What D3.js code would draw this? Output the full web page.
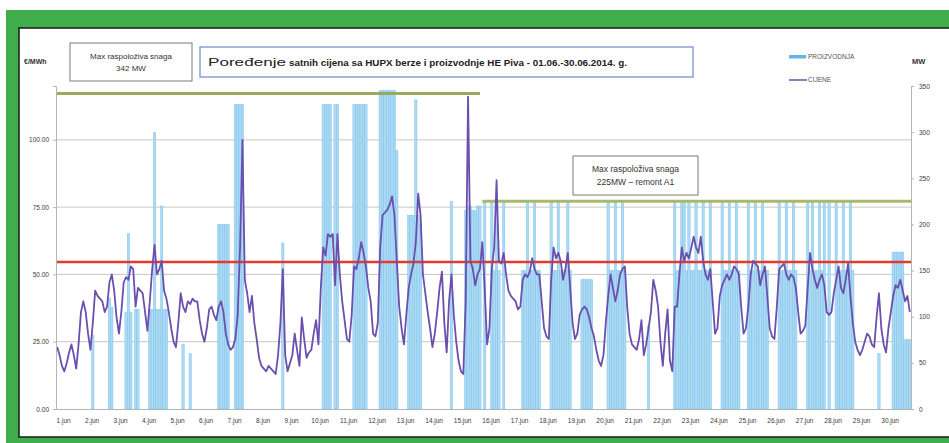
<!DOCTYPE html>
<html>
<head>
<meta charset="utf-8">
<script src="https://d3js.org/d3.v7.min.js"></script>
<style>
  body { margin: 0; background: #fff; }
  svg text { font-family: "Liberation Sans", Arial, sans-serif; }
</style>
</head>
<body>
<script>
'use strict';

// hourly price (EUR/MWh), read every 2 hours, one row per day
const price = [
  23, 20, 16, 14, 17, 21, 24, 20, 15, 24, 36, 40,   // 1.jun
  36, 28, 22, 32, 44, 42, 41, 40, 36, 38, 47, 50,   // 2.jun
  44, 34, 28, 36, 47, 49, 48, 53, 52, 38, 45, 44,
  43, 36, 29, 40, 52, 61, 50, 52, 55, 44, 41, 36,
  30, 25, 23, 32, 43, 38, 36, 40, 39, 41, 40, 40,   // 5.jun
  33, 28, 25, 30, 37, 38, 35, 33, 38, 40, 36, 28,
  24, 22, 23, 26, 35, 60, 100, 48, 43, 36, 42, 32,
  26, 19, 16, 15, 14, 16, 15, 14, 13, 20, 32, 52,
  20, 14, 17, 20, 28, 22, 16, 34, 26, 19, 21, 22,
  28, 33, 24, 45, 60, 57, 65, 64, 65, 46, 65, 50,   // 10.jun
  40, 33, 26, 25, 35, 53, 52, 56, 62, 58, 53, 45,
  40, 28, 27, 32, 60, 72, 73, 74, 76, 79, 72, 55,
  38, 30, 24, 35, 45, 50, 54, 62, 80, 72, 50, 43,
  36, 30, 23, 28, 36, 45, 51, 32, 21, 40, 50, 35,
  25, 18, 14, 13, 40, 116, 55, 52, 46, 50, 52, 62,  // 15.jun
  45, 24, 30, 52, 60, 85, 55, 54, 58, 50, 44, 42,
  41, 40, 37, 38, 48, 50, 49, 51, 56, 52, 50, 50,
  40, 30, 27, 26, 48, 60, 56, 58, 55, 48, 52, 58,
  45, 32, 26, 28, 35, 37, 38, 37, 34, 30, 27, 22,
  18, 16, 20, 32, 42, 50, 45, 40, 44, 50, 52, 53,   // 20.jun
  38, 28, 24, 23, 22, 26, 33, 20, 24, 30, 36, 48,
  44, 38, 25, 16, 28, 37, 18, 14, 38, 38, 50, 60,
  55, 58, 56, 60, 64, 60, 58, 64, 55, 50, 48, 52,
  40, 28, 30, 42, 46, 48, 50, 48, 50, 53, 52, 50,
  38, 28, 30, 38, 50, 55, 54, 53, 46, 50, 53, 42,   // 25.jun
  30, 27, 26, 38, 52, 53, 54, 50, 48, 50, 49, 45,
  36, 28, 29, 31, 45, 58, 52, 48, 45, 48, 50, 46,
  36, 35, 36, 43, 48, 53, 45, 43, 48, 54, 42, 32,
  25, 22, 20, 22, 25, 28, 27, 24, 23, 34, 43, 30,
  24, 21, 30, 36, 42, 46, 45, 48, 44, 40, 42, 36    // 30.jun
];

// production of HE Piva (MW), same 2 hour steps
const production = [
  0, 0, 0, 0, 0, 0, 0, 0, 0, 0, 0, 0,
  0, 0, 0, 80, 0, 0, 0, 0, 0, 0, 120, 110,
  0, 0, 0, 0, 0, 105, 190, 105, 0, 108, 108, 0,
  0, 0, 0, 108, 108, 300, 108, 108, 220, 108, 108, 0,
  0, 0, 0, 0, 0, 70, 0, 0, 60, 0, 0, 0,
  0, 0, 0, 0, 0, 0, 0, 0, 200, 200, 200, 200,
  200, 0, 0, 330, 330, 330, 330, 0, 0, 0, 0, 0,
  0, 0, 0, 0, 0, 0, 0, 0, 0, 0, 0, 180,
  0, 0, 0, 0, 0, 0, 0, 0, 0, 0, 0, 0,
  0, 0, 0, 0, 330, 330, 330, 330, 0, 330, 330, 0,
  0, 0, 0, 0, 0, 330, 330, 330, 330, 330, 330, 0,
  0, 0, 0, 0, 345, 345, 345, 345, 345, 345, 345, 280,
  0, 0, 0, 0, 210, 210, 210, 335, 210, 200, 0, 0,
  0, 0, 0, 0, 0, 0, 0, 0, 0, 0, 225, 0,
  0, 0, 0, 0, 215, 220, 220, 215, 215, 220, 220, 0,
  225, 0, 0, 225, 150, 225, 150, 0, 225, 0, 0, 0,
  0, 0, 0, 0, 150, 150, 225, 150, 150, 225, 150, 150,
  0, 0, 0, 0, 225, 150, 150, 225, 150, 150, 150, 225,
  150, 0, 0, 0, 0, 140, 140, 140, 140, 140, 0, 0,
  0, 0, 0, 0, 225, 150, 150, 225, 150, 150, 225, 150,
  0, 0, 0, 0, 0, 0, 0, 0, 0, 90, 0, 0,
  0, 0, 0, 0, 0, 0, 0, 0, 225, 150, 150, 225,
  225, 150, 225, 150, 150, 225, 150, 150, 225, 150, 150, 225,
  0, 0, 0, 0, 225, 150, 150, 225, 150, 150, 225, 150,
  0, 0, 0, 225, 150, 150, 225, 150, 150, 225, 150, 150,
  0, 0, 0, 0, 225, 150, 150, 225, 150, 150, 225, 150,
  0, 0, 0, 0, 225, 150, 225, 150, 150, 225, 150, 225,
  0, 225, 0, 0, 225, 150, 150, 225, 150, 150, 225, 150,
  0, 0, 0, 0, 0, 0, 0, 0, 0, 0, 60, 0,
  0, 0, 0, 0, 170, 170, 170, 170, 170, 75, 75, 75
];

const dayLabels = d3.range(1, 31).map(d => d + '.jun');
const priceTicks = [0, 25, 50, 75, 100];
const powerTicks = [0, 50, 100, 150, 200, 250, 300, 350];
const avgPrice = 54.6;            // red line
const maxPower = [342, 225];      // max available power before / after 16.jun
const stepHours = 2;

(function() {
  const W = 949, H = 443;
  const svg = d3.select('body').append('svg')
    .attr('width', W)
    .attr('height', H);

  // green frame round the chart
  svg.append('rect')
    .attr('x', 6).attr('y', 10)
    .attr('width', W - 6).attr('height', H - 10)
    .attr('fill', '#3fad4a');
  svg.append('rect')
    .attr('x', 19).attr('y', 28)
    .attr('width', W - 18).attr('height', 409)
    .attr('fill', '#fff')
    .attr('stroke', '#1a1a1a')
    .attr('stroke-width', 1.5);

  // scales
  const x = d3.scaleLinear().domain([0, 720]).range([56, 911]);
  const yL = d3.scaleLinear().domain([0, 120]).range([409, 86]);
  const yR = d3.scaleLinear().domain([0, 350]).range([409, 86]);

  // horizontal grid
  svg.append('g').selectAll('line')
    .data(priceTicks.slice(1))
    .enter().append('line')
    .attr('x1', x(0)).attr('x2', x(720))
    .attr('y1', d => yL(d)).attr('y2', d => yL(d))
    .attr('stroke', '#c6c6c0')
    .attr('stroke-width', 1);

  // production bars
  svg.append('g').selectAll('rect')
    .data(production)
    .enter().append('rect')
    .attr('x', (d, i) => x(i * stepHours))
    .attr('y', d => yR(d))
    .attr('width', x(stepHours) - x(0))
    .attr('height', d => yR(0) - yR(d))
    .attr('fill', '#acdaf3')
    .attr('stroke', '#72bde8')
    .attr('stroke-width', 0.4);

  // max available power lines
  svg.append('line')
    .attr('x1', 57).attr('x2', x(357))
    .attr('y1', yR(maxPower[0])).attr('y2', yR(maxPower[0]))
    .attr('stroke', '#98aa5c').attr('stroke-width', 3);
  svg.append('line')
    .attr('x1', x(359)).attr('x2', x(720))
    .attr('y1', yR(maxPower[1])).attr('y2', yR(maxPower[1]))
    .attr('stroke', '#a9b96c').attr('stroke-width', 3);

  // average price line
  svg.append('line')
    .attr('x1', x(0)).attr('x2', x(720))
    .attr('y1', yL(avgPrice)).attr('y2', yL(avgPrice))
    .attr('stroke', '#e6382b').attr('stroke-width', 2.5);

  // price line
  const line = d3.line()
    .x((d, i) => x(i * stepHours + 1))
    .y(d => yL(d));
  svg.append('path')
    .datum(price)
    .attr('fill', 'none')
    .attr('stroke', '#6a4fae')
    .attr('stroke-width', 1.8)
    .attr('stroke-linejoin', 'round')
    .attr('d', line);

  // axes
  const leftAxis = d3.axisLeft(yL).tickValues(priceTicks)
    .tickFormat(d3.format('.2f')).tickSize(3).tickPadding(4);
  const gl = svg.append('g').attr('transform', 'translate(56,0)').call(leftAxis);

  const rightAxis = d3.axisRight(yR).tickValues(powerTicks).tickSize(3).tickPadding(5);
  const gr = svg.append('g').attr('transform', 'translate(911,0)').call(rightAxis);

  const bottomAxis = d3.axisBottom(x)
    .tickValues(d3.range(30).map(i => i * 24 + 6))
    .tickFormat((d, i) => dayLabels[i])
    .tickSize(0).tickPadding(9);
  const gb = svg.append('g').attr('transform', 'translate(0,409)').call(bottomAxis);

  [gl, gr, gb].forEach(g => {
    g.select('.domain').attr('stroke', '#b5b5b5');
    g.selectAll('.tick line').attr('stroke', '#b5b5b5');
    g.selectAll('text').attr('fill', '#3a3a3a').style('font-size', '6.5px');
  });

  // axis units
  svg.append('text').attr('x', 24).attr('y', 64)
    .style('font-size', '7px').style('font-weight', 'bold').attr('fill', '#333')
    .text('€/MWh');
  svg.append('text').attr('x', 912).attr('y', 64)
    .style('font-size', '7.5px').style('font-weight', 'bold').attr('fill', '#333')
    .text('MW');

  // note boxes
  function noteBox(x0, y0, w, h, lines, size) {
    svg.append('rect')
      .attr('x', x0).attr('y', y0).attr('width', w).attr('height', h)
      .attr('fill', '#fff').attr('stroke', '#7a7a7a').attr('stroke-width', 1);
    lines.forEach((t, i) => {
      svg.append('text')
        .attr('x', x0 + w / 2)
        .attr('y', y0 + h / 2 - (lines.length - 1) * size * 0.75 + i * size * 1.5 + size * 0.35)
        .attr('text-anchor', 'middle')
        .style('font-size', size + 'px')
        .attr('fill', '#333')
        .text(t);
    });
  }
  noteBox(70, 43, 122, 38, ['Max raspoloživa snaga', '342 MW'], 8);
  noteBox(573, 156, 125, 39, ['Max raspoloživa snaga', '225MW – remont A1'], 8.5);

  // title box
  svg.append('rect')
    .attr('x', 200).attr('y', 47).attr('width', 493).attr('height', 30)
    .attr('fill', '#fff').attr('stroke', '#86a2d4').attr('stroke-width', 1.5);
  const title = svg.append('text').attr('x', 208).attr('y', 66).attr('fill', '#222');
  title.append('tspan')
    .style('font-size', '11px')
    .attr('textLength', 78).attr('lengthAdjust', 'spacingAndGlyphs')
    .text('Poređenje');
  title.append('tspan')
    .attr('x', 289)
    .style('font-size', '9.5px').style('font-weight', 'bold')
    .attr('textLength', 338).attr('lengthAdjust', 'spacingAndGlyphs')
    .text('satnih cijena sa HUPX berze i proizvodnje HE Piva - 01.06.-30.06.2014. g.');

  // legend
  svg.append('rect').attr('x', 789).attr('y', 55).attr('width', 17).attr('height', 3.5)
    .attr('fill', '#62b4e6');
  svg.append('text').attr('x', 808).attr('y', 59)
    .style('font-size', '6.5px').attr('fill', '#555').text('PROIZVODNJA');
  svg.append('line').attr('x1', 789).attr('x2', 807).attr('y1', 80).attr('y2', 80)
    .attr('stroke', '#6a4fae').attr('stroke-width', 1.5);
  svg.append('text').attr('x', 808).attr('y', 82)
    .style('font-size', '6.5px').attr('fill', '#555').text('CIJENE');
})();
</script>
</body>
</html>
